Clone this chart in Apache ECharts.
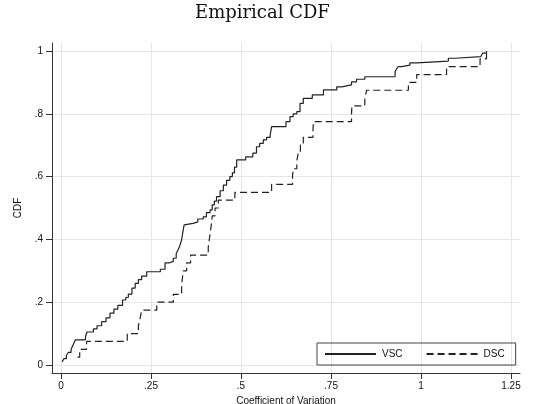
<!DOCTYPE html>
<html>
<head>
<meta charset="utf-8">
<script src="https://cdn.jsdelivr.net/npm/echarts@6/dist/echarts.min.js"></script>
<style>
  html, body { margin: 0; padding: 0; background: #fff; }
  #chart { width: 533px; height: 404px; }
</style>
</head>
<body>
<div id="chart"></div>
<script>
  // tick positions and labels (Stata style, no leading zero)
  const xTicks = [0, 0.25, 0.5, 0.75, 1, 1.25];
  const xTickLabels = ['0', '.25', '.5', '.75', '1', '1.25'];
  const yTicks = [0, 0.2, 0.4, 0.6, 0.8, 1];
  const yTickLabels = ['0', '.2', '.4', '.6', '.8', '1'];

  // VSC: empirical CDF jump points (x = coefficient of variation, y = CDF)
  const vscX = [0.003, 0.008, 0.015, 0.02, 0.028, 0.032, 0.036, 0.04, 0.068, 0.072,
    0.09, 0.1, 0.113, 0.125, 0.136, 0.147, 0.158, 0.171, 0.18, 0.187,
    0.197, 0.206, 0.215, 0.224, 0.238, 0.276, 0.289, 0.3, 0.312, 0.32,
    0.325, 0.33, 0.335, 0.338, 0.342, 0.346, 0.367, 0.38, 0.395, 0.404,
    0.414, 0.42, 0.426, 0.432, 0.442, 0.451, 0.46, 0.469, 0.476, 0.482,
    0.488, 0.513, 0.533, 0.543, 0.552, 0.562, 0.571, 0.581, 0.585, 0.625,
    0.636, 0.645, 0.655, 0.664, 0.673, 0.698, 0.729, 0.766, 0.78, 0.807,
    0.821, 0.844, 0.928, 0.932, 0.937, 0.946, 0.969, 0.988, 1.076, 1.094,
    1.166, 1.171, 1.182];
  const vscY = [0.01, 0.02, 0.03, 0.04, 0.05, 0.06, 0.07, 0.08, 0.09, 0.105,
    0.115, 0.125, 0.138, 0.15, 0.165, 0.178, 0.19, 0.207, 0.215, 0.226,
    0.245, 0.26, 0.272, 0.283, 0.297, 0.305, 0.325, 0.33, 0.34, 0.355,
    0.366, 0.38, 0.398, 0.42, 0.446, 0.451, 0.456, 0.465, 0.472, 0.485,
    0.494, 0.51, 0.522, 0.536, 0.555, 0.573, 0.588, 0.6, 0.612, 0.63,
    0.653, 0.663, 0.675, 0.695, 0.706, 0.717, 0.725, 0.732, 0.759, 0.775,
    0.791, 0.8, 0.807, 0.833, 0.849, 0.86, 0.876, 0.886, 0.892, 0.902,
    0.91, 0.918, 0.934, 0.943, 0.95, 0.955, 0.962, 0.968, 0.977, 0.982,
    0.988, 0.993, 1.0];

  // DSC: empirical CDF jump points
  const dscX = [0.046, 0.052, 0.071, 0.184, 0.215, 0.22, 0.224, 0.266, 0.312, 0.335,
    0.337, 0.34, 0.349, 0.36, 0.409, 0.412, 0.415, 0.418, 0.42, 0.428,
    0.437, 0.483, 0.585, 0.643, 0.645, 0.655, 0.659, 0.665, 0.673, 0.7,
    0.701, 0.807, 0.808, 0.844, 0.849, 0.965, 0.988, 1.071, 1.164, 1.182];
  const dscY = [0.025, 0.05, 0.075, 0.1, 0.125, 0.15, 0.175, 0.2, 0.225, 0.25,
    0.275, 0.3, 0.325, 0.35, 0.375, 0.4, 0.425, 0.45, 0.475, 0.5,
    0.525, 0.55, 0.575, 0.6, 0.625, 0.65, 0.675, 0.7, 0.725, 0.75,
    0.775, 0.8, 0.825, 0.85, 0.875, 0.9, 0.925, 0.95, 0.975, 1.0];

  const font = '"Liberation Sans", Arial, sans-serif';
  const ink = '#222';

  const chart = echarts.init(document.getElementById('chart'), null, { renderer: 'canvas' });

  chart.setOption({
    animation: false,
    backgroundColor: '#fff',
    title: {
      text: 'Empirical CDF',
      left: 195,
      top: 4,
      padding: 0,
      textStyle: { fontFamily: '"DejaVu Serif", serif', fontSize: 18, fontWeight: 'normal', color: '#111' }
    },
    grid: { left: 52, right: 13, top: 43, bottom: 31, outerBoundsMode: 'none' },
    legend: {
      data: ['VSC', 'DSC'],
      left: 317,
      top: 343,
      padding: [6, 11, 6, 7],
      itemGap: 23,
      itemWidth: 51,
      itemHeight: 10,
      borderColor: '#444',
      borderWidth: 1,
      itemStyle: { opacity: 0 },
      textStyle: { fontFamily: font, fontSize: 10, color: '#111', padding: [0, 0, 0, 1] }
    },
    xAxis: {
      type: 'value',
      min: -0.025,
      max: 1.275,
      name: 'Coefficient of Variation',
      nameLocation: 'middle',
      nameGap: 21,
      nameTextStyle: { fontFamily: font, fontSize: 10, color: '#111' },
      axisLine: { show: true, onZero: false, lineStyle: { color: '#333', width: 1 } },
      axisTick: { show: true, length: 6, customValues: xTicks, lineStyle: { color: '#333' } },
      axisLabel: {
        customValues: xTicks,
        margin: 8,
        fontFamily: font, fontSize: 10, color: '#111',
        formatter: v => xTickLabels[xTicks.findIndex(t => Math.abs(t - v) < 1e-6)]
      },
      splitLine: { show: true, lineStyle: { color: '#e6e6e6', width: 1 } }
    },
    yAxis: {
      type: 'value',
      min: -0.0255,
      max: 1.0255,
      name: 'CDF',
      nameLocation: 'middle',
      nameGap: 29,
      nameTextStyle: { fontFamily: font, fontSize: 10, color: '#111' },
      axisLine: { show: true, onZero: false, lineStyle: { color: '#333', width: 1 } },
      axisTick: { show: true, length: 6, customValues: yTicks, lineStyle: { color: '#333' } },
      axisLabel: {
        customValues: yTicks,
        margin: 9,
        fontFamily: font, fontSize: 10, color: '#111',
        formatter: v => yTickLabels[yTicks.findIndex(t => Math.abs(t - v) < 1e-6)]
      },
      splitLine: { show: true, lineStyle: { color: '#e6e6e6', width: 1 } }
    },
    series: [
      {
        name: 'VSC',
        type: 'line',
        step: 'end',
        symbol: 'none',
        lineStyle: { color: ink, width: 1.2, type: 'solid' },
        itemStyle: { color: ink },
        data: vscX.map((x, i) => [x, vscY[i]])
      },
      {
        name: 'DSC',
        type: 'line',
        step: 'end',
        symbol: 'none',
        lineStyle: { color: ink, width: 1.2, type: [7, 4] },
        itemStyle: { color: ink },
        data: dscX.map((x, i) => [x, dscY[i]])
      }
    ]
  });
</script>
</body>
</html>
